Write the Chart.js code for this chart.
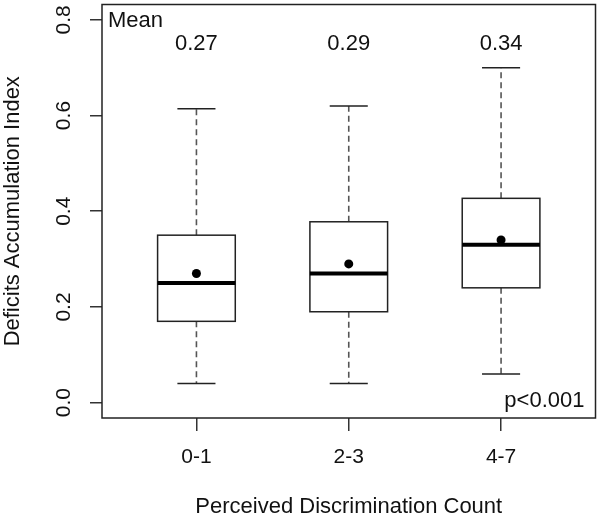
<!DOCTYPE html>
<html>
<head>
<meta charset="utf-8">
<script src="https://cdn.jsdelivr.net/npm/chart.js@4.4.1/dist/chart.umd.min.js"></script>
<style>
  body { margin: 0; background: #fff; }
  #wrap { width: 600px; height: 520px; }
</style>
</head>
<body>
<div id="wrap"><canvas id="boxChart" width="600" height="520"></canvas></div>
<script>
// data
const groups = ['0-1', '2-3', '4-7'];
const whiskerLow = [0.04, 0.04, 0.06];
const q1 = [0.17, 0.19, 0.24];
const medians = [0.25, 0.27, 0.33];
const q3 = [0.35, 0.378, 0.427];
const whiskerHigh = [0.614, 0.62, 0.70];
const means = [0.27, 0.29, 0.34];
const yTicks = [0, 0.2, 0.4, 0.6, 0.8];
const pValueText = 'p<0.001';

const FONT = '"Liberation Sans", Arial, Helvetica, sans-serif';
const INK = '#111';
const boxHalf = 0.255;
const capHalf = 0.125;

// draws the frame, boxes, whiskers and medians with the chart scales
const boxPlugin = {
    id: 'boxPlugin',
    beforeDatasetsDraw(chart) {
        const { ctx, chartArea: a, scales: { x, y } } = chart;
        ctx.save();
        ctx.strokeStyle = '#222';
        ctx.lineWidth = 1.5;
        ctx.strokeRect(a.left, a.top, a.right - a.left, a.bottom - a.top);

        groups.forEach((g, i) => {
            const cx = x.getPixelForValue(i + 1);
            const left = x.getPixelForValue(i + 1 - boxHalf);
            const right = x.getPixelForValue(i + 1 + boxHalf);
            const capL = x.getPixelForValue(i + 1 - capHalf);
            const capR = x.getPixelForValue(i + 1 + capHalf);
            const yLo = y.getPixelForValue(whiskerLow[i]);
            const yQ1 = y.getPixelForValue(q1[i]);
            const yMed = y.getPixelForValue(medians[i]);
            const yQ3 = y.getPixelForValue(q3[i]);
            const yHi = y.getPixelForValue(whiskerHigh[i]);

            // dashed whiskers
            ctx.strokeStyle = '#555';
            ctx.lineWidth = 1.6;
            ctx.setLineDash([6, 4]);
            ctx.beginPath();
            ctx.moveTo(cx, yQ3); ctx.lineTo(cx, yHi);
            ctx.moveTo(cx, yQ1); ctx.lineTo(cx, yLo);
            ctx.stroke();
            ctx.setLineDash([]);

            // staples
            ctx.strokeStyle = '#222';
            ctx.lineWidth = 1.5;
            ctx.beginPath();
            ctx.moveTo(capL, yHi); ctx.lineTo(capR, yHi);
            ctx.moveTo(capL, yLo); ctx.lineTo(capR, yLo);
            ctx.stroke();

            // box
            ctx.fillStyle = '#fff';
            ctx.fillRect(left, yQ3, right - left, yQ1 - yQ3);
            ctx.strokeRect(left, yQ3, right - left, yQ1 - yQ3);

            // median
            ctx.strokeStyle = '#000';
            ctx.lineWidth = 4;
            ctx.beginPath();
            ctx.moveTo(left, yMed); ctx.lineTo(right, yMed);
            ctx.stroke();
        });
        ctx.restore();
    },
    afterDraw(chart) {
        const { ctx, chartArea: a, scales: { x, y } } = chart;
        ctx.save();
        ctx.fillStyle = INK;
        ctx.font = '21px ' + FONT;

        // rotated y tick labels, like R
        yTicks.forEach(v => {
            ctx.save();
            ctx.translate(64, y.getPixelForValue(v));
            ctx.rotate(-Math.PI / 2);
            ctx.textAlign = 'center';
            ctx.textBaseline = 'middle';
            ctx.fillText(v.toFixed(1), 0, 0);
            ctx.restore();
        });

        ctx.font = '22px ' + FONT;
        ctx.textBaseline = 'middle';
        ctx.textAlign = 'left';
        ctx.fillText('Mean', a.left + 6, y.getPixelForValue(0.797));

        ctx.textAlign = 'center';
        means.forEach((m, i) => {
            ctx.fillText(m.toFixed(2), x.getPixelForValue(i + 1), y.getPixelForValue(0.75));
        });

        ctx.textAlign = 'right';
        ctx.fillText(pValueText, a.right - 11, y.getPixelForValue(0.004));
        ctx.restore();
    }
};

const ctx = document.getElementById('boxChart').getContext('2d');
new Chart(ctx, {
    type: 'scatter',
    data: {
        datasets: [{
            label: 'Mean',
            data: means.map((m, i) => ({ x: i + 1, y: m })),
            pointRadius: 4.5,
            pointHoverRadius: 4.5,
            backgroundColor: '#000',
            borderWidth: 0
        }]
    },
    options: {
        responsive: false,
        animation: false,
        layout: { padding: { top: 2, right: 2, left: 0, bottom: 0 } },
        plugins: {
            legend: { display: false },
            tooltip: { enabled: false }
        },
        scales: {
            x: {
                type: 'linear',
                min: 0.38,
                max: 3.62,
                afterBuildTicks: s => { s.ticks = groups.map((g, i) => ({ value: i + 1 })); },
                afterFit: s => { s.height = 102; },
                ticks: {
                    callback: v => groups[Math.round(v) - 1],
                    font: { family: FONT, size: 21 },
                    color: INK,
                    padding: 14,
                    maxRotation: 0,
                    autoSkip: false
                },
                grid: { drawOnChartArea: false, tickLength: 13, color: '#333', lineWidth: 1.5 },
                border: { display: false },
                title: {
                    display: true,
                    text: 'Perceived Discrimination Count',
                    font: { family: FONT, size: 22 },
                    color: INK,
                    padding: 0
                }
            },
            y: {
                min: -0.032,
                max: 0.832,
                afterBuildTicks: s => { s.ticks = yTicks.map(v => ({ value: v })); },
                afterFit: s => { s.width = 102; },
                ticks: { display: false },
                grid: { drawOnChartArea: false, tickLength: 12, color: '#333', lineWidth: 1.5 },
                border: { display: false },
                title: {
                    display: true,
                    text: 'Deficits Accumulation Index',
                    font: { family: FONT, size: 22 },
                    color: INK,
                    padding: 0
                }
            }
        }
    },
    plugins: [boxPlugin]
});
</script>
</body>
</html>
